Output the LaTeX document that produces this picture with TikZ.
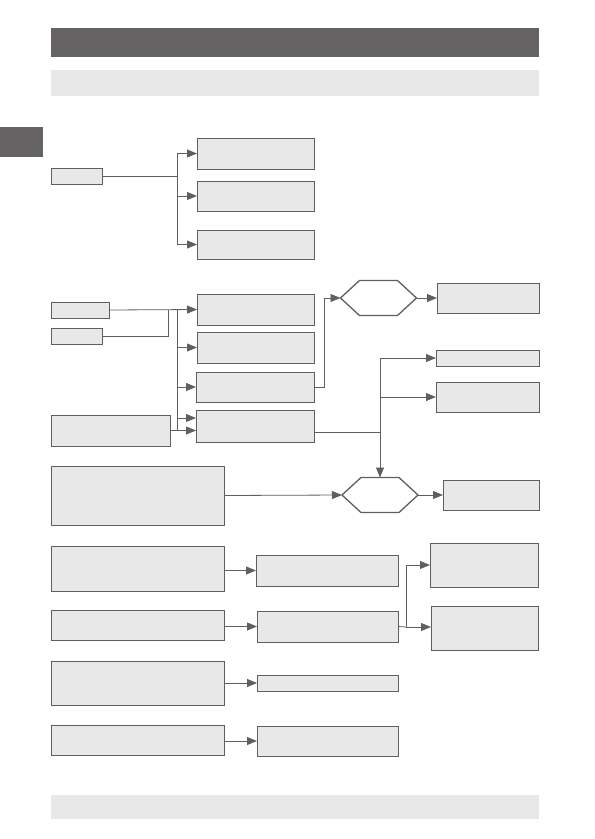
\documentclass[tikz,border=0pt]{standalone}
\usepackage{tikz}
\usepackage{xcolor}
\usetikzlibrary{arrows.meta, calc, positioning}

\definecolor{barDark}{HTML}{646262}
\definecolor{boxFill}{HTML}{E8E8E8}
\definecolor{lineGray}{HTML}{5F5F5F}

\begin{document}
\begin{tikzpicture}[x=1pt,y=-1pt,
    box/.style={draw=lineGray,fill=boxFill,line width=0.8pt,inner sep=0pt,outer sep=0pt,anchor=north west},
    hexspot/.style={inner sep=0pt,outer sep=0pt,minimum width=76pt,minimum height=35pt},
    hexline/.style={draw=lineGray,line width=1.3pt,fill=white,line join=miter},
    link/.style={draw=lineGray,line width=0.8pt},
    arr/.style={link,-{Triangle[length=10pt,width=8pt]}}]
    \useasboundingbox (0,0) rectangle (595,839);

    \fill[barDark] (51,28) rectangle (539,57);
    \fill[boxFill] (51,70) rectangle (539,96);
    \fill[barDark] (0,127) rectangle (43,157);
    \fill[boxFill] (51,795) rectangle (539,819);

    \node[box,minimum width=51pt,minimum height=16pt] (A) at (51,168) {};
    \node[box,minimum width=117pt,minimum height=31pt] (B1) at (197,138) {};
    \node[box,minimum width=117pt,minimum height=30pt] (B2) at (197,181) {};
    \node[box,minimum width=117pt,minimum height=29pt] (B3) at (197,230) {};

    \node[box,minimum width=58pt,minimum height=16pt] (C1) at (51,302) {};
    \node[box,minimum width=51pt,minimum height=16pt] (C2) at (51,328) {};
    \node[box,minimum width=117pt,minimum height=31pt] (D1) at (197,294) {};
    \node[box,minimum width=117pt,minimum height=31pt] (D2) at (197,332) {};
    \node[box,minimum width=118pt,minimum height=30pt] (D3) at (196,372) {};
    \node[box,minimum width=118pt,minimum height=32pt] (D4) at (196,410) {};
    \node[box,minimum width=119pt,minimum height=31pt] (E) at (51,415) {};

    \node[box,minimum width=102pt,minimum height=30pt] (F1) at (437,283) {};
    \node[box,minimum width=103pt,minimum height=16pt] (F2) at (436,350) {};
    \node[box,minimum width=103pt,minimum height=30pt] (F3) at (436,382) {};
    \node[box,minimum width=173pt,minimum height=59pt] (G) at (51,466) {};
    \node[box,minimum width=96pt,minimum height=30pt] (F4) at (443,480) {};

    \node[box,minimum width=173pt,minimum height=45pt] (J1) at (51,546) {};
    \node[box,minimum width=142pt,minimum height=31pt] (K1) at (256,555) {};
    \node[box,minimum width=173pt,minimum height=30pt] (J2) at (51,610) {};
    \node[box,minimum width=141pt,minimum height=31pt] (K2) at (257,611) {};
    \node[box,minimum width=108pt,minimum height=44pt] (L1) at (430,543) {};
    \node[box,minimum width=107pt,minimum height=44pt] (L2) at (431,606) {};
    \node[box,minimum width=173pt,minimum height=44pt] (J3) at (51,661) {};
    \node[box,minimum width=141pt,minimum height=16pt] (K3) at (257,675) {};
    \node[box,minimum width=173pt,minimum height=30pt] (J4) at (51,725) {};
    \node[box,minimum width=141pt,minimum height=30pt] (K4) at (257,726) {};

    % hexagons
    \node[hexspot] (H1) at (378.5,298) {};
    \node[hexspot] (H2) at (380,495) {};
    \foreach \h in {H1,H2}
        \draw[hexline] (\h.west) -- ($(\h.north west)+(19,0)$) -- ($(\h.north east)+(-19,0)$)
            -- (\h.east) -- ($(\h.south east)+(-19,0)$) -- ($(\h.south west)+(19,0)$) -- cycle;

    % first group
    \coordinate (busA) at (177,176);
    \draw[link] (A.east) -- (busA);
    \draw[link] (busA |- B1.west) -- (busA |- B3.west);
    \draw[arr] (busA |- B1.west) -- (B1.west);
    \draw[arr] (busA |- B2.west) -- (B2.west);
    \draw[arr] (busA |- B3.west) -- (B3.west);

    % second group
    \coordinate (joinC) at (168,310);
    \coordinate (busD) at (177,310);
    \draw[link] (C2.east) -| (joinC);
    \draw[arr] (C1.east) -- (D1.west);
    \draw[link] (busD) -- (busD |- E.east);
    \draw[arr] (busD |- D2.west) -- (D2.west);
    \draw[arr] (busD |- D3.west) -- (D3.west);
    \draw[arr] ($(busD |- D4.west)+(0,-8)$) -- ($(D4.west)+(0,-8)$);
    \draw[arr] (E.east) -- (D4.west |- E.east);

    \coordinate (riseD) at (324,298);
    \draw[arr] (D3.east) -| (riseD) -- (H1.west);
    \draw[arr] (H1.east) -- (F1.west);

    \coordinate (splitD) at (380,432);
    \draw[link] ($(D4.east)+(0,6)$) -- (splitD);
    \draw[arr] (splitD |- F2.west) -- (H2.north);
    \draw[arr] (splitD |- F2.west) -- (F2.west);
    \draw[arr] (splitD |- F3.west) -- (F3.west);
    \draw[arr] (G.east) -- (H2.west);
    \draw[arr] (H2.east) -- (F4.west);

    % third group
    \draw[arr] (J1.east |- K1.west) -- (K1.west);
    \draw[arr] (J2.east |- K2.west) -- (K2.west);
    \draw[arr] (J3.east |- K3.west) -- (K3.west);
    \draw[arr] (J4.east |- K4.west) -- (K4.west);
    \coordinate (splitK) at (406,627);
    \draw[link] (K2.east) -- (splitK);
    \draw[arr] (splitK) |- (L1.west);
    \draw[arr] (splitK) -- (L2.west |- splitK);
\end{tikzpicture}
\end{document}
